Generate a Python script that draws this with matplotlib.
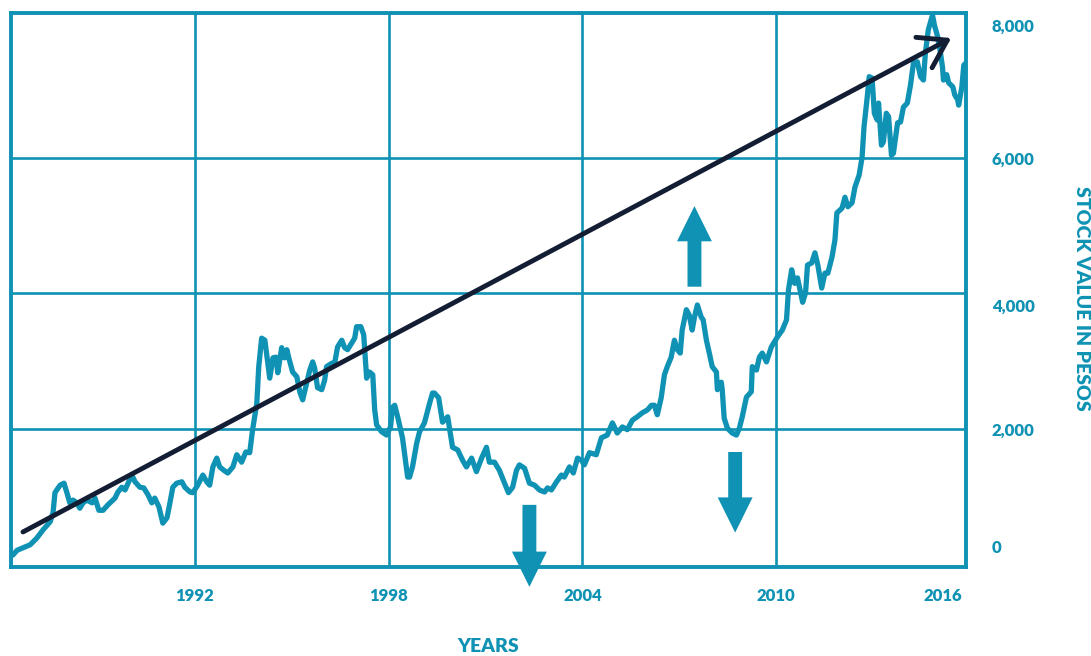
import matplotlib
matplotlib.use("Agg")
import matplotlib.pyplot as plt

plt.rcParams['font.family'] = ['Lato', 'DejaVu Sans']

TEAL = '#0f92b3'
NAVY = '#131d33'

# stock index (year, value in pesos)
years = [
    1986.37, 1986.50, 1986.90, 1987.11, 1987.30, 1987.52, 1987.61, 1987.67, 1987.83, 1987.95,
    1988.04, 1988.13, 1988.23, 1988.35, 1988.44, 1988.54, 1988.66, 1988.82, 1988.91, 1989.03,
    1989.16, 1989.31, 1989.53, 1989.62, 1989.74, 1989.84, 1990.05, 1990.15, 1990.30, 1990.42,
    1990.55, 1990.67, 1990.76, 1990.89, 1991.01, 1991.14, 1991.23, 1991.32, 1991.44, 1991.60,
    1991.69, 1991.85, 1991.94, 1992.09, 1992.25, 1992.37, 1992.46, 1992.56, 1992.68, 1992.77,
    1992.90, 1993.02, 1993.18, 1993.30, 1993.45, 1993.58, 1993.70, 1993.79, 1993.92, 1993.98,
    1994.07, 1994.17, 1994.23, 1994.32, 1994.42, 1994.51, 1994.57, 1994.69, 1994.78, 1994.85,
    1994.91, 1995.03, 1995.16, 1995.25, 1995.34, 1995.47, 1995.56, 1995.65, 1995.71, 1995.80,
    1995.93, 1996.02, 1996.08, 1996.24, 1996.33, 1996.42, 1996.55, 1996.64, 1996.73, 1996.86,
    1996.95, 1997.01, 1997.14, 1997.23, 1997.32, 1997.41, 1997.51, 1997.57, 1997.63, 1997.78,
    1997.94, 1998.06, 1998.12, 1998.19, 1998.28, 1998.43, 1998.59, 1998.65, 1998.74, 1998.87,
    1998.96, 1999.11, 1999.27, 1999.36, 1999.42, 1999.55, 1999.67, 1999.83, 1999.98, 2000.14,
    2000.29, 2000.41, 2000.57, 2000.72, 2000.88, 2001.03, 2001.12, 2001.28, 2001.43, 2001.59,
    2001.71, 2001.84, 2001.96, 2002.05, 2002.21, 2002.36, 2002.52, 2002.67, 2002.83, 2002.92,
    2003.04, 2003.20, 2003.35, 2003.44, 2003.60, 2003.72, 2003.85, 2003.97, 2004.06, 2004.22,
    2004.43, 2004.59, 2004.77, 2004.93, 2005.08, 2005.24, 2005.39, 2005.55, 2005.70, 2005.86,
    2006.01, 2006.14, 2006.23, 2006.32, 2006.44, 2006.54, 2006.63, 2006.75, 2006.85, 2006.94,
    2007.03, 2007.09, 2007.22, 2007.31, 2007.40, 2007.47, 2007.56, 2007.68, 2007.74, 2007.84,
    2007.93, 2008.02, 2008.15, 2008.18, 2008.30, 2008.33, 2008.39, 2008.49, 2008.64, 2008.77,
    2008.86, 2008.95, 2009.08, 2009.23, 2009.26, 2009.39, 2009.48, 2009.57, 2009.70, 2009.85,
    2010.04, 2010.19, 2010.32, 2010.38, 2010.48, 2010.57, 2010.66, 2010.82, 2010.91, 2010.97,
    2011.10, 2011.20, 2011.29, 2011.41, 2011.51, 2011.60, 2011.73, 2011.82, 2011.88, 2012.04,
    2012.13, 2012.22, 2012.35, 2012.44, 2012.57, 2012.66, 2012.72, 2012.82, 2012.88, 2012.97,
    2013.04, 2013.13, 2013.17, 2013.26, 2013.32, 2013.41, 2013.48, 2013.57, 2013.63, 2013.76,
    2013.85, 2013.94, 2014.06, 2014.16, 2014.25, 2014.37, 2014.47, 2014.56, 2014.62, 2014.71,
    2014.84, 2014.90, 2015.00, 2015.06, 2015.15, 2015.18, 2015.28, 2015.34, 2015.47, 2015.53,
    2015.62, 2015.65, 2015.75, 2015.81, 2015.87,
]
values = [
    140, 210, 290, 390, 510, 630, 760, 1060, 1170, 1200,
    1060, 910, 950, 910, 830, 910, 950, 910, 980, 800,
    800, 880, 980, 1070, 1140, 1100, 1320, 1220, 1140, 1130,
    1030, 910, 980, 850, 610, 690, 910, 1140, 1200, 1220,
    1140, 1070, 1060, 1170, 1320, 1220, 1170, 1440, 1570, 1440,
    1390, 1350, 1440, 1620, 1510, 1660, 1650, 1990, 2380, 2920,
    3340, 3310, 3090, 2750, 3050, 3060, 2830, 3200, 3050, 3170,
    3050, 2840, 2770, 2550, 2430, 2690, 2870, 2990, 2900, 2610,
    2580, 2720, 2920, 2970, 2970, 3210, 3310, 3200, 3170, 3270,
    3340, 3510, 3510, 3390, 2750, 2840, 2800, 2280, 2060, 1960,
    1910, 2030, 2320, 2350, 2180, 1870, 1290, 1290, 1440, 1790,
    1960, 2090, 2380, 2530, 2530, 2460, 2100, 2180, 1730, 1690,
    1540, 1440, 1570, 1370, 1570, 1730, 1510, 1510, 1390, 1200,
    1060, 1140, 1390, 1470, 1420, 1200, 1170, 1100, 1070, 1130,
    1100, 1220, 1320, 1290, 1440, 1350, 1570, 1540, 1470, 1650,
    1620, 1870, 1910, 2090, 1940, 2030, 1990, 2130, 2180, 2240,
    2280, 2350, 2350, 2210, 2460, 2800, 2920, 3060, 3310, 3170,
    3120, 3460, 3760, 3680, 3460, 3650, 3830, 3650, 3610, 3310,
    3120, 2920, 2840, 2580, 2690, 2580, 2160, 2010, 1940, 1910,
    2010, 2180, 2470, 2550, 2920, 2870, 3060, 3120, 2990, 3210,
    3360, 3460, 3610, 4050, 4350, 4150, 4230, 3870, 4010, 4420,
    4450, 4600, 4420, 4080, 4300, 4300, 4540, 4790, 5190, 5260,
    5420, 5280, 5340, 5570, 5750, 6010, 6460, 6900, 7200, 7180,
    6660, 6560, 6810, 6190, 6240, 6660, 6610, 6040, 6070, 6520,
    6530, 6750, 6810, 7080, 7400, 7420, 7200, 7150, 7550, 7890,
    8110, 7960, 7790, 7640, 7340, 7150, 7230, 7110, 7050, 6930,
    6860, 6780, 7050, 7370, 7400,
]

grid_years = [1992, 1998, 2004, 2010]
grid_values = [2000, 4000, 6000]
year_tick_pos = [1992, 1998, 2004, 2010, 2015.15]
year_labels = ['1992', '1998', '2004', '2010', '2016']
value_tick_pos = [258, 2000, 3830, 6000, 7960]
value_labels = ['0', '2,000', '4,000', '6,000', '8,000']

# overall trend arrow (start, end)
trend_start = (1986.68, 480)
trend_end = (2015.42, 7770)

# block arrows: (year, start value, end value)
block_arrows = [
    (2007.47, 4100, 5290),
    (2002.36, 880, -330),
    (2008.73, 1660, 470),
]

fig = plt.figure(figsize=(10.91, 6.56), dpi=100)
ax = fig.add_axes([0.0101, 0.1357, 0.8754, 0.8445])

ax.set_xlim(1986.31, 2015.88)
ax.set_ylim(-37, 8140)

# grid drawn by hand, tick labels sit a little off the grid lines
for gx in grid_years:
    ax.axvline(gx, color=TEAL, linewidth=1.9, zorder=1)
for gy in grid_values:
    ax.axhline(gy, color=TEAL, linewidth=1.9, zorder=1)

ax.set_xticks(year_tick_pos)
ax.set_xticklabels(year_labels)
ax.set_yticks(value_tick_pos)
ax.set_yticklabels(value_labels)
ax.yaxis.tick_right()
ax.tick_params(which='both', length=0)
ax.tick_params(axis='x', pad=15, labelsize=12, labelcolor=TEAL)
ax.tick_params(axis='y', pad=18.5, labelsize=12, labelcolor=TEAL)
for lab in ax.get_xticklabels() + ax.get_yticklabels():
    lab.set_fontweight('heavy')

for s in ax.spines.values():
    s.set_color(TEAL)
    s.set_linewidth(2.8)

ax.plot(years, values, color=TEAL, linewidth=3.8, solid_capstyle='round',
        solid_joinstyle='round', zorder=3)

for x, y0, y1 in block_arrows:
    ax.arrow(x, y0, 0, y1 - y0, width=0.43, head_width=1.08, head_length=520,
             length_includes_head=True, color=TEAL, linewidth=0,
             clip_on=False, zorder=3)

ax.annotate('', xy=trend_end, xytext=trend_start,
            arrowprops=dict(arrowstyle='->,head_length=0.95,head_width=0.62',
                            mutation_scale=20, color=NAVY, linewidth=3.5,
                            shrinkA=0, shrinkB=0, capstyle='round'),
            zorder=4)

fig.text(488 / 1091, 1 - 647 / 656, 'YEARS', color=TEAL, fontsize=14,
         fontweight='heavy', ha='center', va='center')
fig.text(1082 / 1091, 1 - 298 / 656, 'STOCK VALUE IN PESOS', color=TEAL,
         fontsize=14, fontweight='heavy', ha='center', va='center', rotation=-90)

fig.savefig('out.png', dpi=100, facecolor='white')
